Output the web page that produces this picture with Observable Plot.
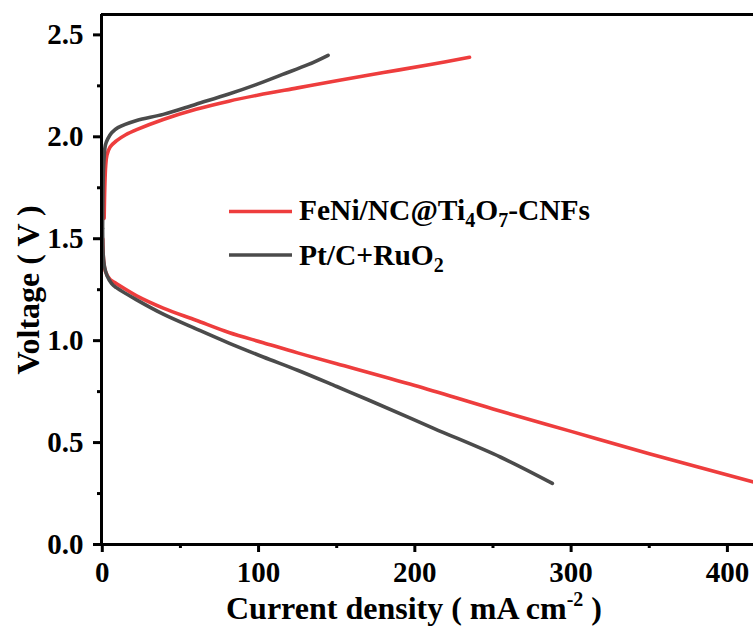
<!DOCTYPE html>
<html>
<head>
<meta charset="utf-8">
<script src="https://cdn.jsdelivr.net/npm/d3@7"></script>
<script src="https://cdn.jsdelivr.net/npm/@observablehq/plot@0.6"></script>
<style>
  html, body { margin: 0; padding: 0; background: #fff; }
</style>
</head>
<body>
<div id="chart"></div>
<script>
// ---- Data ----
const seriesNames = ["FeNi/NC@Ti4O7-CNFs", "Pt/C+RuO2"];
const seriesColors = ["#ee3d3d", "#4b4b4b"];

// FeNi/NC@Ti4O7-CNFs charge (upper branch)
const redChargeX = [1.2, 1.6, 2.2, 3, 5, 9, 15, 22, 39, 60, 81, 100, 125, 150, 180, 210, 235];
const redChargeV = [1.60, 1.75, 1.86, 1.91, 1.95, 1.98, 2.01, 2.035, 2.085, 2.135, 2.175, 2.205, 2.24, 2.275, 2.315, 2.355, 2.39];
// FeNi/NC@Ti4O7-CNFs discharge (lower branch)
const redDischargeX = [0.3, 0.8, 2, 5, 9, 22, 39, 60, 81, 103, 125, 150, 200, 250, 300, 350, 420];
const redDischargeV = [1.50, 1.40, 1.34, 1.30, 1.28, 1.22, 1.16, 1.10, 1.04, 0.99, 0.94, 0.887, 0.78, 0.665, 0.555, 0.445, 0.30];

// Pt/C+RuO2 charge
const grayChargeX = [0.2, 0.6, 1.2, 2, 3.5, 6, 10, 22, 39, 60, 81, 98, 115, 132, 144.5];
const grayChargeV = [1.55, 1.80, 1.90, 1.96, 1.99, 2.02, 2.045, 2.08, 2.11, 2.16, 2.21, 2.255, 2.305, 2.355, 2.40];
// Pt/C+RuO2 discharge
const grayDischargeX = [0.2, 0.6, 1.5, 3, 6, 9, 22, 39, 60, 81, 103, 125, 150, 170, 212, 255, 288];
const grayDischargeV = [1.55, 1.42, 1.36, 1.32, 1.28, 1.26, 1.20, 1.13, 1.058, 0.988, 0.92, 0.855, 0.775, 0.71, 0.57, 0.428, 0.30];

const xTicks = [0, 100, 200, 300, 400];
const xMinorTicks = [50, 150, 250, 350];
const yTicks = [0, 0.5, 1.0, 1.5, 2.0, 2.5];
const yMinorTicks = [0.25, 0.75, 1.25, 1.75, 2.25];

// ---- Build tables ----
const toRows = (xs, vs) => xs.map((x, i) => ({x, v: vs[i]}));
const curves = [
  {rows: toRows(redChargeX, redChargeV), color: seriesColors[0]},
  {rows: toRows(redDischargeX, redDischargeV), color: seriesColors[0]},
  {rows: toRows(grayChargeX, grayChargeV), color: seriesColors[1]},
  {rows: toRows(grayDischargeX, grayDischargeV), color: seriesColors[1]}
];

const FONT = "'Liberation Serif', 'Times New Roman', serif";
const xDomain = [-0.5, 416.7];
const yDomain = [0, 2.6];

const svg = Plot.plot({
  width: 753,
  height: 629,
  marginLeft: 101,
  marginRight: 0,
  marginTop: 14,
  marginBottom: 85,
  x: {domain: xDomain},
  y: {domain: yDomain},
  style: {fontFamily: FONT, fontWeight: "bold", fontSize: "29px", color: "#000", background: "#fff", overflow: "visible"},
  marks: [
    ...curves.map(c => Plot.line(c.rows, {x: "x", y: "v", stroke: c.color, strokeWidth: 3.6, curve: "catmull-rom", clip: true, strokeLinecap: "round"})),
    Plot.axisX({ticks: xTicks, tickSize: 8, tickPadding: 9, strokeWidth: 3, tickFormat: d => String(d), label: null}),
    Plot.axisX({ticks: xMinorTicks, tickSize: 4, strokeWidth: 3, tickFormat: () => "", label: null}),
    Plot.axisY({ticks: yTicks, tickSize: 8, tickPadding: 10, strokeWidth: 3, tickFormat: d3.format(".1f"), label: null}),
    Plot.axisY({ticks: yMinorTicks, tickSize: 4, strokeWidth: 3, tickFormat: () => "", label: null}),
    Plot.ruleX([xDomain[0]], {strokeWidth: 3}),
    Plot.ruleY([yDomain[0]], {strokeWidth: 3}),
    Plot.ruleY([yDomain[1]], {strokeWidth: 3})
  ]
});

const s = d3.select(svg);

// X axis title with superscript
const xt = s.append("text")
  .attr("x", 414).attr("y", 619)
  .attr("text-anchor", "middle")
  .attr("font-family", FONT).attr("font-weight", "bold").attr("font-size", 32)
  .attr("fill", "#000");
xt.append("tspan").text("Current density ( mA cm");
xt.append("tspan").attr("font-size", 20).attr("dy", -13).text("-2");
xt.append("tspan").attr("dy", 13).text(" )");

// Y axis title
s.append("text")
  .attr("transform", "translate(39,290) rotate(-90)")
  .attr("text-anchor", "middle")
  .attr("font-family", FONT).attr("font-weight", "bold").attr("font-size", 32)
  .attr("fill", "#000")
  .text("Voltage ( V )");

// Legend
const legendItems = [
  {y: 211.5, base: 220, color: seriesColors[0], parts: [["FeNi/NC@Ti", 0], ["4", 1], ["O", 0], ["7", 1], ["-CNFs", 0]]},
  {y: 255, base: 265, color: seriesColors[1], parts: [["Pt/C+RuO", 0], ["2", 1]]}
];
legendItems.forEach(item => {
  s.append("line")
    .attr("x1", 229).attr("x2", 292).attr("y1", item.y).attr("y2", item.y)
    .attr("stroke", item.color).attr("stroke-width", 3.6);
  const t = s.append("text")
    .attr("x", 299).attr("y", item.base)
    .attr("text-anchor", "start")
    .attr("font-family", FONT).attr("font-weight", "bold").attr("font-size", 29.5)
    .attr("fill", "#000");
  let shifted = false;
  item.parts.forEach(([str, sub]) => {
    const sp = t.append("tspan").text(str);
    if (sub && !shifted) { sp.attr("font-size", 20).attr("dy", 7); shifted = true; }
    else if (sub && shifted) { sp.attr("font-size", 20); }
    else if (!sub && shifted) { sp.attr("dy", -7); shifted = false; }
  });
});

document.getElementById("chart").appendChild(svg);
</script>
</body>
</html>
